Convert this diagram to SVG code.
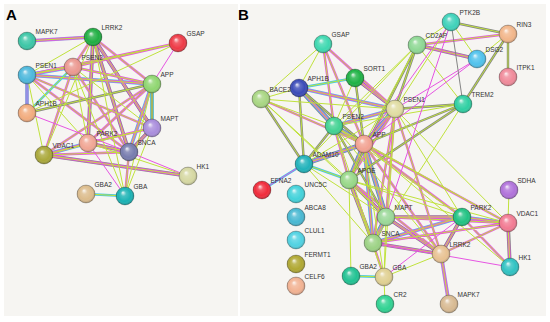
<svg xmlns="http://www.w3.org/2000/svg" width="550" height="322" viewBox="0 0 550 322">
<defs>
<radialGradient id="gloss" cx="50%" cy="50%" r="50%" fx="38%" fy="30%">
<stop offset="0" stop-color="#fff" stop-opacity=".9"/>
<stop offset=".3" stop-color="#fff" stop-opacity=".2"/>
<stop offset=".72" stop-color="#fff" stop-opacity="0"/>
<stop offset="1" stop-color="#000" stop-opacity=".28"/>
</radialGradient>
<style>
.bg{fill:#f6f5f2}
.e path{fill:none;stroke-linecap:round;stroke-linejoin:round}
.G{stroke:#c0e23c}.M{stroke:#e655e2}.C{stroke:#45c8e6}.K{stroke:#858585}.P{stroke:#a08ddb}
.w1{stroke-width:1}.w2{stroke-width:2.4}.w3{stroke-width:3.7}.w4{stroke-width:4.8}
.gl{fill:url(#gloss);stroke:#000;stroke-opacity:.35;stroke-width:.6}
.nd text{font-family:"Liberation Sans",Arial,sans-serif;font-size:6.5px;fill:#333}
.pl{font-family:"Liberation Sans",Arial,sans-serif;font-size:15px;font-weight:bold;fill:#000}
</style>
</defs>
<rect width="550" height="322" fill="#fff"/>
<rect class="bg" x="4" y="4" width="234" height="312"/>
<rect class="bg" x="240" y="4" width="306" height="312"/>
<text class="pl" x="6" y="20">A</text>
<text class="pl" x="238" y="20">B</text>

<g id="connectors-a" class="e">
<path class="P w3" d="M27 41L93 37M27 75L27 113"/>
<path class="K w3" d="M93 37L152 128M93 37L88 143M93 37L129 152M152 128L129 152M88 143L129 152M44 155L188 176"/>
<path class="C w3" d="M27 75L73 67M27 75L152 84M152 84L152 128M152 84L129 152M88 143L44 155"/>
<path class="M w2" d="M27 41L93 37M93 37L73 67M93 37L152 84M93 37L152 128M93 37L88 143M93 37L129 152M178 43L27 75M178 43L73 67M27 75L73 67M27 75L152 84M27 75L152 128M27 75L129 152M73 67L152 84M73 67L129 152M73 67L44 155M152 84L129 152M152 84L88 143M152 84L44 155M152 128L129 152M152 128L88 143M88 143L129 152M88 143L44 155M129 152L44 155M129 152L125 196M44 155L188 176"/>
<path class="C w2" d="M27 75L27 113M73 67L27 113M125 196L86 194"/>
<path class="K w2" d="M152 84L27 113M152 84L152 128"/>
<path class="G w1" d="M27 41L93 37M93 37L73 67M93 37L27 75M93 37L152 84M93 37L152 128M93 37L88 143M93 37L129 152M93 37L44 155M93 37L125 196M178 43L27 75M178 43L73 67M178 43L27 113M27 75L73 67M27 75L152 84M27 75L152 128M27 75L88 143M27 75L129 152M27 75L44 155M73 67L27 113M73 67L152 84M73 67L152 128M73 67L88 143M73 67L129 152M73 67L44 155M73 67L125 196M152 84L27 113M152 84L152 128M152 84L129 152M152 84L88 143M152 84L44 155M152 84L125 196M152 128L129 152M152 128L88 143M152 128L44 155M88 143L129 152M88 143L44 155M129 152L44 155M129 152L125 196M44 155L188 176M125 196L86 194M88 143L188 176M152 128L125 196"/>
<path class="M w1" d="M178 43L152 84M27 75L27 113M88 143L125 196M129 152L188 176M27 113L129 152"/>
</g>

<g id="connectors-b" class="e">
<path class="K w4" d="M299 88L334 126M395 109L364 144M334 126L364 144M364 144L304 164M364 144L349 180M364 144L386 217M386 217L373 243"/>
<path class="K w3" d="M355 78L395 109M417 45L477 59M349 180L386 217M349 180L373 243M386 217L462 217M386 217L441 254M373 243L441 254M462 217L441 254M508 223L510 267"/>
<path class="C w3" d="M299 88L395 109M299 88L334 126M395 109L334 126M395 109L364 144M334 126L364 144M364 144L304 164M364 144L349 180M364 144L386 217M364 144L373 243M386 217L373 243M373 243L462 217M462 217L508 223"/>
<path class="P w3" d="M441 254L449 304"/>
<path class="M w2" d="M323 44L334 126M323 44L364 144M323 44L395 109M355 78L395 109M299 88L395 109M299 88L334 126M261 99L364 144M395 109L334 126M395 109L364 144M395 109L349 180M395 109L386 217M395 109L373 243M395 109L441 254M417 45L508 34M417 45L477 59M334 126L364 144M334 126L349 180M364 144L304 164M364 144L349 180M364 144L386 217M364 144L373 243M364 144L462 217M364 144L441 254M364 144L508 223M349 180L386 217M349 180L373 243M349 180L441 254M386 217L373 243M386 217L462 217M386 217L441 254M386 217L508 223M373 243L462 217M373 243L441 254M373 243L508 223M373 243L384 277M462 217L441 254M462 217L508 223M462 217L510 267M441 254L508 223M441 254L449 304M508 223L510 267"/>
<path class="K w2" d="M355 78L364 144M299 88L364 144M299 88L304 164M261 99L304 164M395 109L463 104M395 109L417 45M463 104L364 144M463 104L349 180M463 104L508 34M417 45L349 180M451 22L508 34M508 34L508 77M334 126L304 164M334 126L386 217"/>
<path class="C w2" d="M355 78L299 88M304 164L262 190M304 164L349 180M384 277L351 276"/>
<path class="G w1" d="M323 44L261 99M323 44L299 88M323 44L334 126M323 44L364 144M323 44L395 109M355 78L299 88M355 78L395 109M355 78L364 144M355 78L334 126M299 88L395 109M299 88L334 126M299 88L364 144M299 88L304 164M299 88L261 99M261 99L395 109M261 99L334 126M261 99L364 144M261 99L304 164M261 99L349 180M261 99L386 217M395 109L334 126M395 109L364 144M395 109L304 164M395 109L349 180M395 109L463 104M395 109L417 45M395 109L451 22M395 109L386 217M395 109L373 243M395 109L441 254M395 109L462 217M395 109L384 277M395 109L508 223M463 104L364 144M463 104L349 180M463 104L417 45M463 104L508 34M463 104L334 126M463 104L373 243M417 45L451 22M417 45L508 34M417 45L477 59M417 45L364 144M417 45L349 180M417 45L334 126M417 45L304 164M451 22L508 34M451 22L477 59M508 34L508 77M508 34L477 59M334 126L364 144M334 126L304 164M334 126L349 180M334 126L386 217M334 126L373 243M334 126L441 254M364 144L304 164M364 144L349 180M364 144L386 217M364 144L373 243M364 144L462 217M364 144L441 254M364 144L508 223M364 144L384 277M364 144L510 267M304 164L349 180M304 164L386 217M304 164L373 243M349 180L386 217M349 180L373 243M349 180L351 276M349 180L462 217M349 180L441 254M349 180L384 277M349 180L508 223M386 217L373 243M386 217L462 217M386 217L441 254M386 217L508 223M386 217L384 277M373 243L462 217M373 243L441 254M373 243L508 223M373 243L384 277M462 217L441 254M462 217L508 223M462 217L510 267M441 254L508 223M441 254L449 304M441 254L384 277M508 223L509 190M508 223L510 267M384 277L351 276M384 277L385 304M334 126L462 217M334 126L508 223"/>
<path class="M w1" d="M395 109L477 59M451 22L364 144M451 22L386 217M477 59L364 144M304 164L262 190M373 243L510 267M462 217L384 277"/>
<path class="K w1" d="M463 104L451 22"/>
</g>

<g id="a-mapk7" class="nd"><circle cx="27" cy="41" r="9" fill="#3cc6a6"/><circle cx="27" cy="41" r="9" class="gl"/><text x="35.5" y="34">MAPK7</text></g>
<g id="a-lrrk2" class="nd"><circle cx="93" cy="37" r="9" fill="#1fae42"/><circle cx="93" cy="37" r="9" class="gl"/><text x="101.5" y="30">LRRK2</text></g>
<g id="a-gsap" class="nd"><circle cx="178" cy="43" r="9" fill="#ee3a46"/><circle cx="178" cy="43" r="9" class="gl"/><text x="186.5" y="36">GSAP</text></g>
<g id="a-psen2" class="nd"><circle cx="73" cy="67" r="9" fill="#eb9890"/><circle cx="73" cy="67" r="9" class="gl"/><text x="81.5" y="60">PSEN2</text></g>
<g id="a-psen1" class="nd"><circle cx="27" cy="75" r="9" fill="#4db8dc"/><circle cx="27" cy="75" r="9" class="gl"/><text x="35.5" y="68">PSEN1</text></g>
<g id="a-app" class="nd"><circle cx="152" cy="84" r="9" fill="#8fd670"/><circle cx="152" cy="84" r="9" class="gl"/><text x="160.5" y="77">APP</text></g>
<g id="a-aph1b" class="nd"><circle cx="27" cy="113" r="9" fill="#f2ac7e"/><circle cx="27" cy="113" r="9" class="gl"/><text x="35.5" y="106">APH1B</text></g>
<g id="a-mapt" class="nd"><circle cx="152" cy="128" r="9" fill="#a98ddc"/><circle cx="152" cy="128" r="9" class="gl"/><text x="160.5" y="121">MAPT</text></g>
<g id="a-park2" class="nd"><circle cx="88" cy="143" r="9" fill="#f1a694"/><circle cx="88" cy="143" r="9" class="gl"/><text x="96.5" y="136">PARK2</text></g>
<g id="a-snca" class="nd"><circle cx="129" cy="152" r="9" fill="#777cae"/><circle cx="129" cy="152" r="9" class="gl"/><text x="137.5" y="145">SNCA</text></g>
<g id="a-vdac1" class="nd"><circle cx="44" cy="155" r="9" fill="#aaa83a"/><circle cx="44" cy="155" r="9" class="gl"/><text x="52.5" y="148">VDAC1</text></g>
<g id="a-hk1" class="nd"><circle cx="188" cy="176" r="9" fill="#d6d8a2"/><circle cx="188" cy="176" r="9" class="gl"/><text x="196.5" y="169">HK1</text></g>
<g id="a-gba2" class="nd"><circle cx="86" cy="194" r="9" fill="#dcbc8c"/><circle cx="86" cy="194" r="9" class="gl"/><text x="94.5" y="187">GBA2</text></g>
<g id="a-gba" class="nd"><circle cx="125" cy="196" r="9" fill="#1ab2b4"/><circle cx="125" cy="196" r="9" class="gl"/><text x="133.5" y="189">GBA</text></g>

<g id="b-ptk2b" class="nd"><circle cx="451" cy="22" r="9" fill="#3ed2ba"/><circle cx="451" cy="22" r="9" class="gl"/><text x="459.5" y="15">PTK2B</text></g>
<g id="b-rin3" class="nd"><circle cx="508" cy="34" r="9" fill="#f2b68a"/><circle cx="508" cy="34" r="9" class="gl"/><text x="516.5" y="27">RIN3</text></g>
<g id="b-gsap" class="nd"><circle cx="323" cy="44" r="9" fill="#3ed8b0"/><circle cx="323" cy="44" r="9" class="gl"/><text x="331.5" y="37">GSAP</text></g>
<g id="b-cd2ap" class="nd"><circle cx="417" cy="45" r="9" fill="#8ed894"/><circle cx="417" cy="45" r="9" class="gl"/><text x="425.5" y="38">CD2AP</text></g>
<g id="b-dsg2" class="nd"><circle cx="477" cy="59" r="9" fill="#50c2ec"/><circle cx="477" cy="59" r="9" class="gl"/><text x="485.5" y="52">DSG2</text></g>
<g id="b-itpk1" class="nd"><circle cx="508" cy="77" r="9" fill="#f08a9a"/><circle cx="508" cy="77" r="9" class="gl"/><text x="516.5" y="70">ITPK1</text></g>
<g id="b-sort1" class="nd"><circle cx="355" cy="78" r="9" fill="#1eb244"/><circle cx="355" cy="78" r="9" class="gl"/><text x="363.5" y="71">SORT1</text></g>
<g id="b-aph1b" class="nd"><circle cx="299" cy="88" r="9" fill="#3a4ab8"/><circle cx="299" cy="88" r="9" class="gl"/><text x="307.5" y="81">APH1B</text></g>
<g id="b-bace2" class="nd"><circle cx="261" cy="99" r="9" fill="#a8d682"/><circle cx="261" cy="99" r="9" class="gl"/><text x="269.5" y="92">BACE2</text></g>
<g id="b-psen1" class="nd"><circle cx="395" cy="109" r="9" fill="#e0dca2"/><circle cx="395" cy="109" r="9" class="gl"/><text x="403.5" y="102">PSEN1</text></g>
<g id="b-trem2" class="nd"><circle cx="463" cy="104" r="9" fill="#2ecfa2"/><circle cx="463" cy="104" r="9" class="gl"/><text x="471.5" y="97">TREM2</text></g>
<g id="b-psen2" class="nd"><circle cx="334" cy="126" r="9" fill="#42d292"/><circle cx="334" cy="126" r="9" class="gl"/><text x="342.5" y="119">PSEN2</text></g>
<g id="b-app" class="nd"><circle cx="364" cy="144" r="9" fill="#f2a292"/><circle cx="364" cy="144" r="9" class="gl"/><text x="372.5" y="137">APP</text></g>
<g id="b-adam10" class="nd"><circle cx="304" cy="164" r="9" fill="#20b2ba"/><circle cx="304" cy="164" r="9" class="gl"/><text x="312.5" y="157">ADAM10</text></g>
<g id="b-apoe" class="nd"><circle cx="349" cy="180" r="9" fill="#98d888"/><circle cx="349" cy="180" r="9" class="gl"/><text x="357.5" y="173">APOE</text></g>
<g id="b-efna2" class="nd"><circle cx="262" cy="190" r="9" fill="#f02a3a"/><circle cx="262" cy="190" r="9" class="gl"/><text x="270.5" y="183">EFNA2</text></g>
<g id="b-unc5c" class="nd"><circle cx="296" cy="194" r="9" fill="#42d2da"/><circle cx="296" cy="194" r="9" class="gl"/><text x="304.5" y="187">UNC5C</text></g>
<g id="b-abca8" class="nd"><circle cx="296" cy="217" r="9" fill="#48b8d2"/><circle cx="296" cy="217" r="9" class="gl"/><text x="304.5" y="210">ABCA8</text></g>
<g id="b-clul1" class="nd"><circle cx="296" cy="240" r="9" fill="#50d2e2"/><circle cx="296" cy="240" r="9" class="gl"/><text x="304.5" y="233">CLUL1</text></g>
<g id="b-fermt1" class="nd"><circle cx="296" cy="264" r="9" fill="#b0a832"/><circle cx="296" cy="264" r="9" class="gl"/><text x="304.5" y="257">FERMT1</text></g>
<g id="b-celf6" class="nd"><circle cx="296" cy="286" r="9" fill="#f2b292"/><circle cx="296" cy="286" r="9" class="gl"/><text x="304.5" y="279">CELF6</text></g>
<g id="b-sdha" class="nd"><circle cx="509" cy="190" r="9" fill="#b072da"/><circle cx="509" cy="190" r="9" class="gl"/><text x="517.5" y="183">SDHA</text></g>
<g id="b-mapt" class="nd"><circle cx="386" cy="217" r="9" fill="#9ad898"/><circle cx="386" cy="217" r="9" class="gl"/><text x="394.5" y="210">MAPT</text></g>
<g id="b-park2" class="nd"><circle cx="462" cy="217" r="9" fill="#20c282"/><circle cx="462" cy="217" r="9" class="gl"/><text x="470.5" y="210">PARK2</text></g>
<g id="b-vdac1" class="nd"><circle cx="508" cy="223" r="9" fill="#f27a92"/><circle cx="508" cy="223" r="9" class="gl"/><text x="516.5" y="216">VDAC1</text></g>
<g id="b-snca" class="nd"><circle cx="373" cy="243" r="9" fill="#9cd284"/><circle cx="373" cy="243" r="9" class="gl"/><text x="381.5" y="236">SNCA</text></g>
<g id="b-lrrk2" class="nd"><circle cx="441" cy="254" r="9" fill="#e8c292"/><circle cx="441" cy="254" r="9" class="gl"/><text x="449.5" y="247">LRRK2</text></g>
<g id="b-hk1" class="nd"><circle cx="510" cy="267" r="9" fill="#30c2c2"/><circle cx="510" cy="267" r="9" class="gl"/><text x="518.5" y="260">HK1</text></g>
<g id="b-gba2" class="nd"><circle cx="351" cy="276" r="9" fill="#20c292"/><circle cx="351" cy="276" r="9" class="gl"/><text x="359.5" y="269">GBA2</text></g>
<g id="b-gba" class="nd"><circle cx="384" cy="277" r="9" fill="#e0d092"/><circle cx="384" cy="277" r="9" class="gl"/><text x="392.5" y="270">GBA</text></g>
<g id="b-cr2" class="nd"><circle cx="385" cy="304" r="9" fill="#30d292"/><circle cx="385" cy="304" r="9" class="gl"/><text x="393.5" y="297">CR2</text></g>
<g id="b-mapk7" class="nd"><circle cx="449" cy="304" r="9" fill="#d8ba92"/><circle cx="449" cy="304" r="9" class="gl"/><text x="457.5" y="297">MAPK7</text></g>
</svg>
